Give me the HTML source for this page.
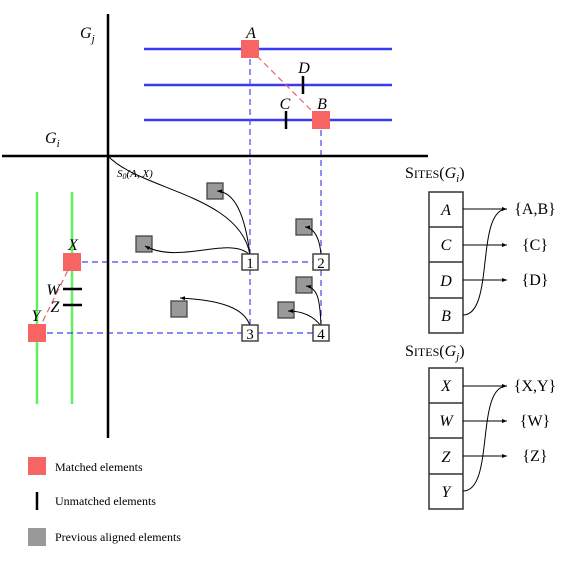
<!DOCTYPE html>
<html><head><meta charset="utf-8"><style>
body{margin:0;background:#fff}
svg text{font-family:"Liberation Serif",serif;fill:#000}
.it{font-style:italic}
</style></head><body>
<svg width="566" height="561" viewBox="0 0 566 561">
<defs><marker id="ah" markerWidth="6" markerHeight="6" refX="5" refY="3" orient="auto"><path d="M0,1 L5,3 L0,5z" fill="#000"/></marker></defs>
<g stroke="#3a3af5" stroke-width="2.5">
<line x1="144" y1="49" x2="392" y2="49"/><line x1="144" y1="85" x2="392" y2="85"/><line x1="144" y1="120" x2="392" y2="120"/></g>
<g stroke="#5ef05e" stroke-width="2.5">
<line x1="37" y1="192" x2="37" y2="404"/><line x1="72" y1="192" x2="72" y2="404"/></g>
<g stroke="#4444ee" stroke-width="1.2" stroke-dasharray="6,4" fill="none">
<line x1="250" y1="49" x2="250" y2="333"/><line x1="321" y1="120" x2="321" y2="333"/>
<line x1="72" y1="262" x2="321" y2="262"/><line x1="37" y1="333" x2="321" y2="333"/></g>
<g stroke="#f06060" stroke-width="1.2" stroke-dasharray="6,4">
<line x1="250" y1="49" x2="321" y2="120"/><line x1="72" y1="262" x2="37" y2="333"/></g>
<g stroke="#000" stroke-width="2.5">
<line x1="108" y1="14" x2="108" y2="438"/><line x1="2" y1="156" x2="428" y2="156"/></g>
<text x="80" y="38" class="it" font-size="16">G<tspan font-size="11" dy="4">j</tspan></text>
<text x="45" y="143" class="it" font-size="16">G<tspan font-size="11" dy="4">i</tspan></text>
<g stroke="#000" stroke-width="2.5">
<line x1="303" y1="76" x2="303" y2="94"/><line x1="286" y1="111" x2="286" y2="129"/>
<line x1="63" y1="289" x2="82" y2="289"/><line x1="63" y1="305" x2="82" y2="305"/></g>
<g fill="#f76464">
<rect x="241" y="40" width="18" height="18"/><rect x="312" y="111" width="18" height="18"/>
<rect x="63" y="253" width="18" height="18"/><rect x="28" y="324" width="18" height="18"/></g>
<g class="it" font-size="16" text-anchor="middle">
<text x="251" y="38" class="it">A</text><text x="304" y="73" class="it">D</text><text x="285" y="109" class="it">C</text><text x="322" y="109" class="it">B</text>
<text x="73" y="250" class="it">X</text><text x="53" y="295" class="it">W</text><text x="55" y="312" class="it">Z</text><text x="36" y="321" class="it">Y</text></g>
<g fill="#999" stroke="#444" stroke-width="1.3">
<rect x="207" y="183" width="16" height="16"/><rect x="136" y="236" width="16" height="16"/><rect x="296" y="219" width="16" height="16"/>
<rect x="171" y="301" width="16" height="16"/><rect x="296" y="277" width="16" height="16"/><rect x="278" y="302" width="16" height="16"/></g>
<g fill="none" stroke="#000" stroke-width="1">
<path d="M108,156 C140,190 240,195 250,255"/>
<path d="M250,255 C245,215 235,192 217,191" marker-end="url(#ah)"/>
<path d="M250,255 C230,235 180,265 145,246" marker-end="url(#ah)"/>
<path d="M321,255 C320,240 315,228 305,227" marker-end="url(#ah)"/>
<path d="M250,326 C245,308 220,300 180,298" marker-end="url(#ah)"/>
<path d="M321,326 C320,300 318,288 306,286" marker-end="url(#ah)"/>
<path d="M321,326 C315,318 305,311 288,311" marker-end="url(#ah)"/></g>
<text x="117" y="177" class="it" font-size="11">S<tspan font-size="8" dy="2">0</tspan><tspan dy="-2">(A, X)</tspan></text>
<g fill="#fff" stroke="#444" stroke-width="1.5">
<rect x="242" y="254" width="16" height="16"/><rect x="313" y="254" width="16" height="16"/>
<rect x="242" y="325" width="16" height="16"/><rect x="313" y="325" width="16" height="16"/></g>
<g font-size="15" text-anchor="middle">
<text x="250" y="268">1</text><text x="321" y="268">2</text><text x="250" y="339">3</text><text x="321" y="339">4</text></g>
<text x="405" y="178" font-size="16">S<tspan font-size="12">ITES</tspan>(<tspan class="it">G</tspan><tspan class="it" font-size="11" dy="4">i</tspan><tspan dy="-4">)</tspan></text>
<g stroke="#333" stroke-width="1.5" fill="none">
<rect x="429" y="192" width="34" height="141"/><line x1="429" y1="227" x2="463" y2="227"/><line x1="429" y1="262" x2="463" y2="262"/><line x1="429" y1="298" x2="463" y2="298"/></g>
<g font-size="16" text-anchor="middle" class="it">
<text x="446" y="215" class="it">A</text><text x="446" y="250" class="it">C</text><text x="446" y="286" class="it">D</text><text x="446" y="321" class="it">B</text></g>
<g stroke="#000" stroke-width="1" fill="none">
<line x1="463" y1="209" x2="507" y2="209" marker-end="url(#ah)"/><line x1="463" y1="245" x2="507" y2="245" marker-end="url(#ah)"/><line x1="463" y1="280" x2="507" y2="280" marker-end="url(#ah)"/>
<path d="M463,315 C495,315 475,209 507,209"/></g>
<g font-size="16" text-anchor="middle"><text x="535" y="214">{A,B}</text><text x="535" y="250">{C}</text><text x="535" y="285">{D}</text></g>
<text x="405" y="356" font-size="16">S<tspan font-size="12">ITES</tspan>(<tspan class="it">G</tspan><tspan class="it" font-size="11" dy="4">j</tspan><tspan dy="-4">)</tspan></text>
<g stroke="#333" stroke-width="1.5" fill="none">
<rect x="429" y="368" width="34" height="141"/><line x1="429" y1="403" x2="463" y2="403"/><line x1="429" y1="438" x2="463" y2="438"/><line x1="429" y1="474" x2="463" y2="474"/></g>
<g font-size="16" text-anchor="middle">
<text x="446" y="391" class="it">X</text><text x="446" y="426" class="it">W</text><text x="446" y="462" class="it">Z</text><text x="446" y="497" class="it">Y</text></g>
<g stroke="#000" stroke-width="1" fill="none">
<line x1="463" y1="386" x2="507" y2="386" marker-end="url(#ah)"/><line x1="463" y1="421" x2="507" y2="421" marker-end="url(#ah)"/><line x1="463" y1="456" x2="507" y2="456" marker-end="url(#ah)"/>
<path d="M463,491 C495,491 475,386 507,386"/></g>
<g font-size="16" text-anchor="middle"><text x="535" y="391">{X,Y}</text><text x="535" y="426">{W}</text><text x="535" y="461">{Z}</text></g>
<g font-size="12">
<rect x="28" y="457" width="18" height="18" fill="#f76464"/>
<text x="55" y="471">Matched elements</text>
<line x1="37" y1="492" x2="37" y2="510" stroke="#000" stroke-width="2.5"/>
<text x="55" y="505">Unmatched elements</text>
<rect x="28" y="528" width="18" height="18" fill="#999"/>
<text x="55" y="541">Previous aligned elements</text></g>
</svg>
</body></html>
